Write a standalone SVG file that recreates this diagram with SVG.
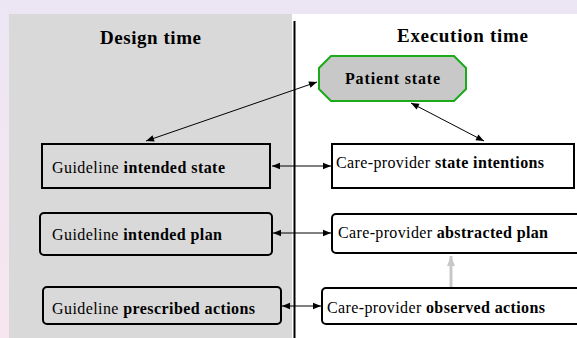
<svg xmlns="http://www.w3.org/2000/svg" width="577" height="338" viewBox="0 0 577 338">
<defs>
<linearGradient id="edge" x1="0" y1="0" x2="0" y2="1">
<stop offset="0" stop-color="#ece6f4"/>
<stop offset="1" stop-color="#f7e6ee"/>
</linearGradient>
<marker id="ah" viewBox="0 0 10 10" refX="10" refY="5" markerWidth="10" markerHeight="8" markerUnits="userSpaceOnUse" orient="auto-start-reverse">
<path d="M0,1 L10,5 L0,9 z" fill="#000"/>
</marker>
<marker id="ahg" viewBox="0 0 10 10" refX="10" refY="5" markerWidth="14" markerHeight="10" markerUnits="userSpaceOnUse" orient="auto">
<path d="M0,1 L10,5 L0,9 z" fill="#c8c8c8"/>
</marker>
</defs>
<style>
.t{font-family:"Liberation Serif","Times New Roman",serif;font-size:16px;fill:#000}
.h{font-family:"Liberation Serif","Times New Roman",serif;font-size:19px;font-weight:bold;fill:#000}
.b{font-weight:bold}
.box{fill:none;stroke:#000;stroke-width:2}
.wbox{fill:#fff;stroke:#000;stroke-width:2}
.c{stroke:#000;stroke-width:1;fill:none}
</style>
<rect x="0" y="0" width="577" height="338" fill="#fff"/>
<rect x="0" y="0" width="577" height="14" fill="#ece6f4"/>
<rect x="0" y="0" width="9" height="338" fill="url(#edge)"/>
<rect x="9" y="14" width="283" height="324" fill="#d9d9d9"/>
<line x1="294.5" y1="21" x2="294.5" y2="338" stroke="#000" stroke-width="2"/>
<text class="h" x="100" y="44" textLength="101">Design time</text>
<text class="h" x="397" y="42" textLength="131">Execution time</text>
<g id="connectors">
<line class="c" x1="317" y1="82" x2="146" y2="141" marker-start="url(#ah)" marker-end="url(#ah)"/>
<line class="c" x1="411" y1="103" x2="484" y2="141" marker-start="url(#ah)" marker-end="url(#ah)"/>
<line class="c" x1="272" y1="166" x2="331" y2="166" marker-start="url(#ah)" marker-end="url(#ah)"/>
<line class="c" x1="273" y1="233" x2="331" y2="233" marker-start="url(#ah)" marker-end="url(#ah)"/>
<line class="c" x1="282" y1="306" x2="321" y2="306" marker-start="url(#ah)" marker-end="url(#ah)"/>
<line x1="451" y1="288" x2="451" y2="256" stroke="#c8c8c8" stroke-width="3" marker-end="url(#ahg)"/>
</g>
<g id="patient-state">
<polygon points="331,56 454,56 466,68 466,89 454,101 331,101 319,89 319,68" fill="#c8c8c8" stroke="#1aaa1a" stroke-width="2"/>
<text class="t b" x="345" y="84" textLength="95">Patient  state</text>
</g>
<g id="guideline-intended-state">
<rect class="box" x="42" y="144" width="228" height="44"/>
<text class="t" x="52" y="173" textLength="173">Guideline <tspan class="b">intended state</tspan></text>
</g>
<g id="guideline-intended-plan">
<rect class="box" x="40" y="213" width="232" height="42" rx="4"/>
<text class="t" x="52" y="240" textLength="170">Guideline <tspan class="b">intended plan</tspan></text>
</g>
<g id="guideline-prescribed-actions">
<rect class="box" x="43" y="287" width="238" height="37" rx="4"/>
<text class="t" x="52" y="314" textLength="203">Guideline <tspan class="b">prescribed actions</tspan></text>
</g>
<g id="care-state-intentions">
<rect class="wbox" x="332" y="144" width="242" height="44"/>
<text class="t" x="336" y="168" textLength="208">Care-provider <tspan class="b">state intentions</tspan></text>
</g>
<g id="care-abstracted-plan">
<rect class="wbox" x="332" y="214" width="250" height="39" rx="4"/>
<text class="t" x="338" y="238" textLength="210">Care-provider <tspan class="b">abstracted plan</tspan></text>
</g>
<g id="care-observed-actions">
<rect class="wbox" x="322" y="288" width="260" height="36" rx="4"/>
<text class="t" x="327" y="313" textLength="218">Care-provider <tspan class="b">observed actions</tspan></text>
</g>
</svg>
